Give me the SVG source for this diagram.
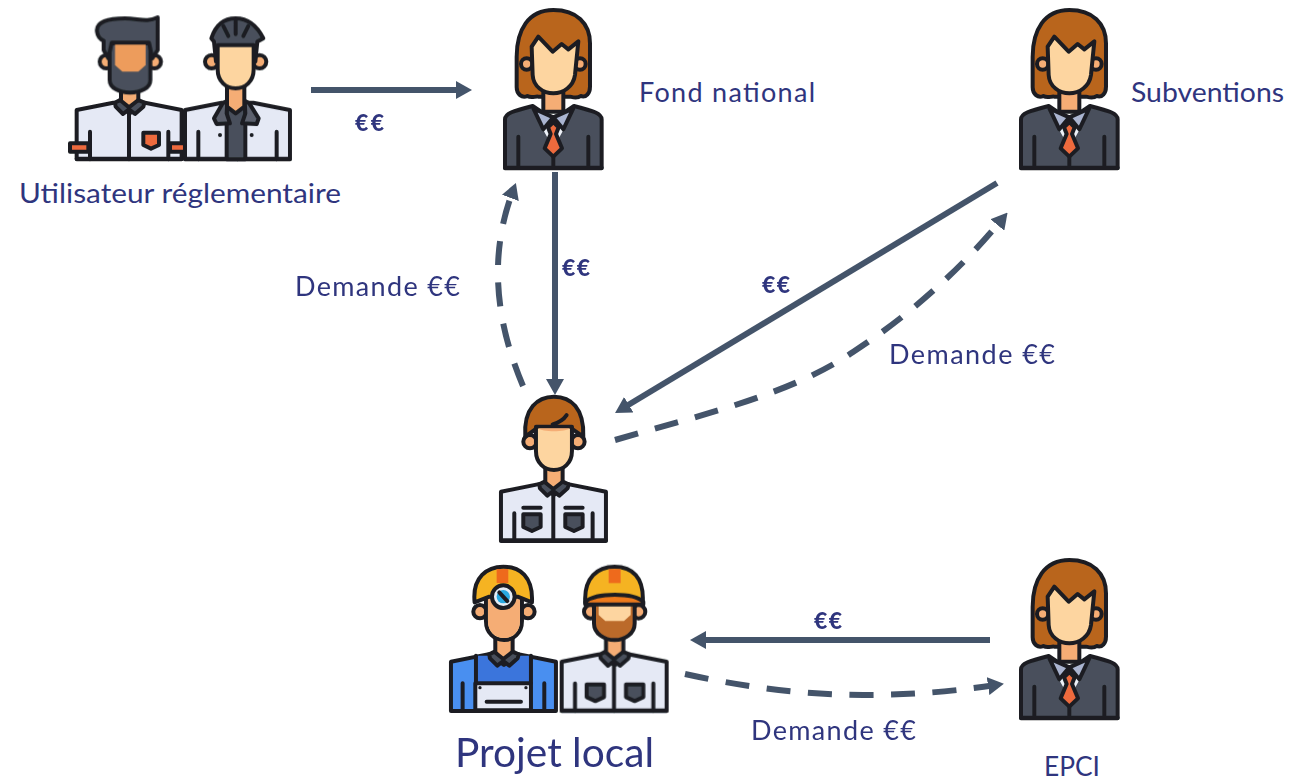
<svg xmlns="http://www.w3.org/2000/svg" width="1309" height="782" viewBox="0 0 1309 782">
<style>
text{font-family:"Lato","Open Sans","Liberation Sans",sans-serif;fill:#2f357e}
.l{font-size:27px}.b{font-size:23px;font-weight:900}
.c{fill:none;stroke:#44546a;stroke-width:6}
.d{stroke-dasharray:24 17.5}
.o{stroke:#1c1f24;stroke-width:12;stroke-linejoin:round;stroke-linecap:round}
.t{stroke:#1c1f24;stroke-width:12;fill:none;stroke-linecap:round;stroke-linejoin:round}
.skin{fill:#fdd5a0}.tan{fill:#f5ad74}.dark{fill:#4a505b}.brown{fill:#b9651f}
</style>
<defs>
<filter id="soft" x="-5%" y="-5%" width="110%" height="110%"><feGaussianBlur stdDeviation="1.2"/></filter>
<marker id="a" markerWidth="16" markerHeight="18" refX="6" refY="9" orient="auto" markerUnits="userSpaceOnUse" viewBox="0 0 16 18"><path d="M0 0L16 9L0 18Z" fill="#44546a"/></marker>
<g id="woman">
<path class="o brown" d="M190 30C115 30 80 90 80 170V262C80 282 96 296 112 288C125 296 135 288 145 290H240C250 292 262 296 272 288C288 294 300 280 300 260V130C300 70 260 30 190 30Z"/>
<circle class="o tan" cx="110" cy="192" r="17"/><circle class="o tan" cx="270" cy="192" r="17"/>
<path class="o tan" d="M160 260H220V335H160Z"/>
<path class="o skin" d="M125 140L145 110L188 155L215 132L235 148L265 124L255 225C250 260 220 280 190 280C160 280 130 260 128 225Z"/>
<path class="o dark" d="M45 505V358C45 340 70 333 128 318L190 360L252 318C310 333 335 340 335 358V505Z"/>
<path d="M135 345L190 445L245 345L190 365Z" fill="#eef1f8"/>
<path class="o" fill="#aab4d0" stroke-width="9" d="M130 325L190 352L160 388ZM250 325L190 352L220 388Z"/>
<path class="o" fill="#ee6b3e" stroke-width="8" d="M190 366L206 382L198 402L216 445L190 470L164 445L182 402L174 382Z"/>
<path class="t" d="M85 410V500M295 410V500M190 470V500M45 503H335"/>
</g>
<g id="shirt">
<path class="o" fill="#e5e9f5" d="M5 30L115 8H210L320 30V178H5Z"/>
<path class="t" d="M162 35V178M45 95V178M280 95V178M5 176H320"/>
</g>
<path id="neck" class="o tan" d="M138 -45H190V20L164 40L138 20Z"/>
<path id="collar" class="o dark" stroke-width="9" d="M120 8L135 0L162 22L190 0L208 8L205 20L180 42L162 28L144 42L122 20Z"/>
<g id="ears"><circle class="o tan" cx="92" cy="-120" r="20"/><circle class="o tan" cx="236" cy="-120" r="20"/></g>
<path id="pocket" class="o dark" stroke-width="8" d="M0 0H52V38L26 50L0 38Z"/>
<path id="face" class="o skin" d="M110 -165H218V-92C218 -55 192 -35 164 -35C136 -35 110 -55 110 -92Z"/>
</defs>

<g id="connectors">
<path class="c" marker-end="url(#a)" d="M311 90H462"/>
<path class="c" marker-end="url(#a)" d="M555 172V385"/>
<path class="c" marker-end="url(#a)" d="M997 183L623.6 407.8"/>
<path class="c" marker-end="url(#a)" d="M990 640H700"/>
<path class="c d" marker-end="url(#a)" d="M523 386C495 320 489 255 512.4 192.3"/>
<path class="c d" marker-end="url(#a)" d="M615 440C700 415 790 395 853 352C910 315 960 270 1001.2 220.3"/>
<path class="c d" marker-end="url(#a)" d="M685 674C740 686 800 695 863 695C915 695 955 691 994 685.3"/>
</g>

<g id="utilisateur">
<g filter="url(#soft)" transform="translate(75 100) scale(.3333)">
<use href="#shirt"/><use href="#neck"/><use href="#collar"/>
<path class="o" fill="#ee6b3e" stroke-width="8" d="M205 98H252V135L228 146L205 135Z"/>
<path class="o" fill="#ee6b3e" stroke-width="8" d="M-15 130H40V155H-15ZM285 130H340V155H285Z"/>
<use href="#ears" transform="translate(2 5)"/>
<path class="o dark" d="M104 -170V-60C104 -35 135 -22 165 -22C195 -22 226 -35 226 -60V-170Z"/>
<path fill="#ed9c5c" d="M120 -170H212V-105L190 -85H142L120 -105Z"/>
<path class="o dark" d="M66 -205C62 -235 100 -245 150 -245C190 -245 215 -232 248 -248V-150L232 -125L222 -172H110L100 -125L86 -150V-178C74 -182 68 -190 66 -205Z"/>
</g>
<g filter="url(#soft)" transform="translate(183.3 100) scale(.3333)">
<use href="#shirt"/>
<path class="o dark" d="M130 5H186V178H130Z"/>
<path class="o" fill="#5b616d" stroke-width="8" d="M118 10L132 2L130 40L140 70L100 72L92 55ZM198 10L184 2L186 40L176 70L220 72L226 55Z"/>
<circle cx="35" cy="105" r="0" fill="#1c1f24"/>
<circle cx="110" cy="105" r="6" fill="#1c1f24"/><circle cx="205" cy="105" r="6" fill="#1c1f24"/>
<use href="#neck" transform="translate(-7 0)"/>
<use href="#ears" transform="translate(-7 5)"/>
<path class="o dark" d="M84 -185C100 -235 130 -245 157 -245C185 -245 215 -235 240 -185L222 -175L216 -115H98L92 -175Z"/>
<path class="t" stroke-width="7" stroke="#1c1f24" d="M120 -222L135 -192M157 -238V-198M195 -222L180 -192"/>
<use href="#face" transform="translate(-7 0)"/>
</g>
<text class="l" x="19" y="203" textLength="322" lengthAdjust="spacingAndGlyphs">Utilisateur réglementaire</text>
</g>

<g id="fond-national">
<use filter="url(#soft)" href="#woman" transform="translate(490 0) scale(.3333)"/>
<text class="l" x="639" y="102" textLength="176" lengthAdjust="spacing">Fond national</text>
</g>
<g id="subventions">
<use filter="url(#soft)" href="#woman" transform="translate(1006 0) scale(.3333)"/>
<text class="l" x="1131" y="102" textLength="153" lengthAdjust="spacingAndGlyphs">Subventions</text>
</g>
<g id="epci">
<use filter="url(#soft)" href="#woman" transform="translate(1006 550) scale(.3333)"/>
<text x="1044" y="776" font-size="26" textLength="56" lengthAdjust="spacingAndGlyphs">EPCI</text>
</g>

<g id="referent">
<g filter="url(#soft)" transform="translate(499.3 481.7) scale(.3333)">
<use href="#shirt"/><use href="#neck"/><use href="#collar"/>
<use href="#pocket" transform="translate(72 98)"/><use href="#pocket" transform="translate(198 98)"/>
<path class="t" stroke-width="8" d="M72 78H124M198 78H250"/>
<use href="#ears"/>
<path class="o brown" d="M78 -135C72 -220 115 -255 164 -255C215 -255 255 -220 252 -135L216 -160H112Z"/>
<use href="#face"/>
<path fill="#f5ad74" d="M116 -160H212C200 -148 128 -148 116 -160Z"/>
<path class="t" stroke-width="8" d="M160 -172C180 -178 192 -185 202 -200"/>
</g>
</g>

<g id="projet-local">
<g filter="url(#soft)" transform="translate(449.3 651.7) scale(.3333)">
<path class="o" fill="#4a8ff0" d="M5 30L115 8H210L320 30V178H5Z"/>
<path fill="#3a74dc" d="M85 12H240V95H85Z"/>
<use href="#neck"/>
<path class="o" fill="#e5e9f5" d="M78 95H245V176H78Z"/>
<path class="t" d="M80 12V95M245 12V95M40 95V178M285 95V178M112 150H215"/>
<circle cx="92" cy="108" r="5" fill="#1c1f24"/><circle cx="230" cy="108" r="5" fill="#1c1f24"/>
<use href="#collar"/>
<use href="#ears"/>
<use href="#face" style="--x:0"/>
<path class="tan" d="M116 -160H212V-92C212 -60 190 -41 164 -41C138 -41 116 -60 116 -92Z"/>
<path class="o" fill="#f5b324" d="M76 -148C68 -225 115 -255 162 -255C212 -255 252 -225 248 -148L205 -165H120Z"/>
<rect x="142" y="-248" width="35" height="42" fill="#ee6b1e"/>
<circle class="o" fill="#e6ecf4" cx="162" cy="-165" r="34"/>
<circle fill="#2aa9e0" cx="162" cy="-165" r="20"/>
<path class="t" stroke-width="6" d="M150 -178L174 -152"/>
</g>
<g filter="url(#soft)" transform="translate(560 651.7) scale(.3333)">
<use href="#shirt"/><use href="#neck"/><use href="#collar"/>
<use href="#pocket" transform="translate(80 98)"/><use href="#pocket" transform="translate(198 98)"/>
<use href="#ears"/>
<path class="o" fill="#bb6a2c" d="M102 -150H224V-85C224 -55 195 -35 164 -35C133 -35 102 -55 102 -85Z"/>
<path class="skin" d="M116 -150H212V-110L192 -92H136L116 -110Z"/>
<path class="o" fill="#f5b324" d="M76 -145C70 -225 115 -255 164 -255C215 -255 254 -225 248 -145Z"/>
<rect x="146" y="-248" width="36" height="42" fill="#ee6b1e"/>
<path class="o" fill="#ee7a1e" stroke-width="9" d="M76 -150C110 -178 220 -178 250 -150V-142H76Z"/>
</g>
<text x="455" y="767" font-size="40" textLength="199" lengthAdjust="spacingAndGlyphs">Projet local</text>
</g>

<g id="labels">
<text class="b" x="355" y="131" textLength="29">€€</text>
<text class="b" x="562" y="276" textLength="28">€€</text>
<text class="b" x="762" y="293" textLength="28">€€</text>
<text class="b" x="814" y="629" textLength="28">€€</text>
<text class="l" x="295" y="296" textLength="165">Demande €€</text>
<text class="l" x="889" y="364" textLength="166">Demande €€</text>
<text class="l" x="751" y="740" textLength="165">Demande €€</text>
</g>
</svg>
